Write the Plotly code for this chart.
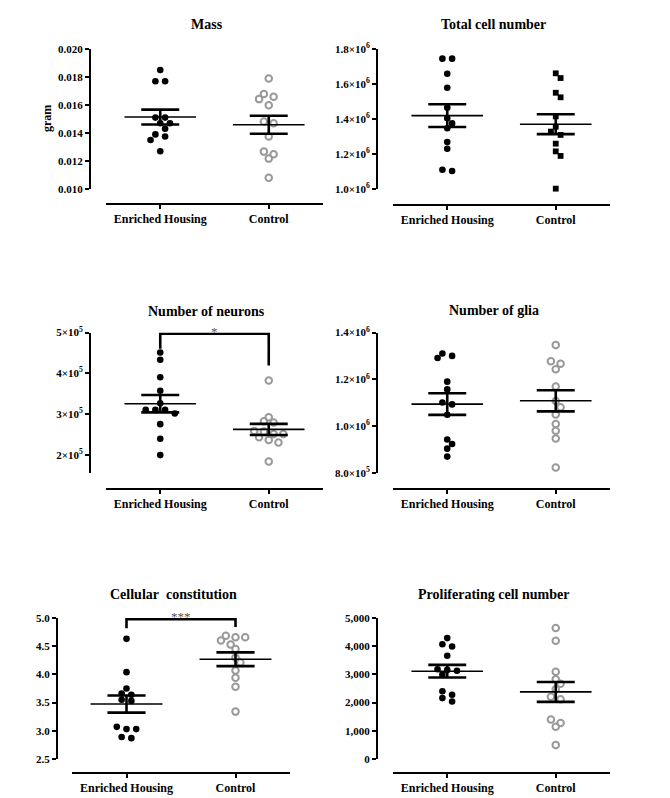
import numpy as np
import plotly.graph_objects as go

# ---------------- data ----------------
CATEGORIES = ["Enriched Housing", "Control"]

mass_enriched = [0.0185, 0.0177, 0.0177, 0.0151, 0.0151, 0.0147, 0.0147, 0.0143, 0.0139, 0.01375, 0.0135, 0.0127]
mass_control = [0.0179, 0.01678, 0.01659, 0.01642, 0.01599, 0.01482, 0.0147, 0.01375, 0.01267, 0.01248, 0.01217, 0.01081]

total_enriched = [1.745e6, 1.745e6, 1.659e6, 1.579e6, 1.465e6, 1.404e6, 1.375e6, 1.347e6, 1.269e6, 1.230e6, 1.110e6, 1.103e6]
total_control = [1.661e6, 1.634e6, 1.550e6, 1.524e6, 1.415e6, 1.356e6, 1.328e6, 1.309e6, 1.259e6, 1.215e6, 1.189e6, 1.002e6]

neurons_enriched = [4.51e5, 4.33e5, 3.90e5, 3.57e5, 3.26e5, 3.10e5, 3.10e5, 3.10e5, 3.01e5, 2.75e5, 2.39e5, 1.99e5]
neurons_control = [3.82e5, 2.92e5, 2.82e5, 2.79e5, 2.58e5, 2.57e5, 2.51e5, 2.51e5, 2.43e5, 2.36e5, 2.30e5, 1.83e5]

glia_enriched = [1.31e6, 1.30e6, 1.291e6, 1.19e6, 1.157e6, 1.101e6, 1.093e6, 1.049e6, 0.943e6, 0.924e6, 0.904e6, 0.870e6]
glia_control = [1.347e6, 1.277e6, 1.267e6, 1.243e6, 1.169e6, 1.107e6, 1.081e6, 1.05e6, 1.009e6, 0.98e6, 0.947e6, 0.823e6]

cell_enriched = [4.63, 4.04, 3.75, 3.66, 3.64, 3.55, 3.53, 3.07, 3.03, 3.03, 2.89, 2.87]
cell_control = [4.685, 4.66, 4.66, 4.60, 4.53, 4.45, 4.30, 4.21, 4.07, 3.94, 3.78, 3.34]

prolif_enriched = [4287, 4070, 3990, 3660, 3180, 3160, 3130, 3000, 2400, 2280, 2160, 2040]
prolif_control = [4644, 4190, 3090, 2830, 2670, 2470, 2210, 2120, 1400, 1280, 1140, 500]

TITLES = ["Mass", "Total cell number", "Number of neurons", "Number of glia",
          "Cellular\u00a0 constitution", "Proliferating cell number"]

mass_tickvals = [0.010, 0.012, 0.014, 0.016, 0.018, 0.020]
mass_ticktext = ["0.010", "0.012", "0.014", "0.016", "0.018", "0.020"]
total_tickvals = [1.0e6, 1.2e6, 1.4e6, 1.6e6, 1.8e6]
total_ticktext = ["1.0×10<sup>6</sup>", "1.2×10<sup>6</sup>", "1.4×10<sup>6</sup>", "1.6×10<sup>6</sup>", "1.8×10<sup>6</sup>"]
neurons_tickvals = [2e5, 3e5, 4e5, 5e5]
neurons_ticktext = ["2×10<sup>5</sup>", "3×10<sup>5</sup>", "4×10<sup>5</sup>", "5×10<sup>5</sup>"]
glia_tickvals = [8.0e5, 1.0e6, 1.2e6, 1.4e6]
glia_ticktext = ["8.0×10<sup>5</sup>", "1.0×10<sup>6</sup>", "1.2×10<sup>6</sup>", "1.4×10<sup>6</sup>"]
cell_tickvals = [2.5, 3.0, 3.5, 4.0, 4.5, 5.0]
cell_ticktext = ["2.5", "3.0", "3.5", "4.0", "4.5", "5.0"]
prolif_tickvals = [0, 1000, 2000, 3000, 4000, 5000]
prolif_ticktext = ["0", "1,000", "2,000", "3,000", "4,000", "5,000"]

# significance brackets: (top level, left leg bottom, right leg bottom, label)
neurons_bracket = (4.97e5, 4.60e5, 4.19e5, "*")
cell_bracket = (4.98, 4.82, 4.84, "***")

# ---------------- layout geometry (pixels) ----------------
W, H = 670, 798
FONT = "Liberation Serif"
BLACK = "#000000"
GRAY = "#999999"

panels = [
    dict(en=mass_enriched, co=mass_control, yrange=[0.010, 0.020], tv=mass_tickvals, tt=mass_ticktext,
         yx=90, xl=106, xr=323, yt=49, yb=189, xline=204, ty=25, co_sym="circle-open", co_col=GRAY, br=None),
    dict(en=total_enriched, co=total_control, yrange=[1.0e6, 1.8e6], tv=total_tickvals, tt=total_ticktext,
         yx=377, xl=393, xr=610, yt=49, yb=189, xline=205, ty=25, co_sym="square", co_col=BLACK, br=None),
    dict(en=neurons_enriched, co=neurons_control, yrange=[1.55e5, 5.0e5], tv=neurons_tickvals, tt=neurons_ticktext,
         yx=90, xl=106, xr=323, yt=332.5, yb=473, xline=489, ty=311, co_sym="circle-open", co_col=GRAY, br=neurons_bracket),
    dict(en=glia_enriched, co=glia_control, yrange=[8.0e5, 1.4e6], tv=glia_tickvals, tt=glia_ticktext,
         yx=377, xl=393, xr=610, yt=332.5, yb=473, xline=489, ty=310, co_sym="circle-open", co_col=GRAY, br=None),
    dict(en=cell_enriched, co=cell_control, yrange=[2.5, 5.0], tv=cell_tickvals, tt=cell_ticktext,
         yx=57, xl=72, xr=290, yt=618, yb=759, xline=773, ty=594, co_sym="circle-open", co_col=GRAY, br=cell_bracket),
    dict(en=prolif_enriched, co=prolif_control, yrange=[0, 5000], tv=prolif_tickvals, tt=prolif_ticktext,
         yx=377, xl=393, xr=610, yt=618, yb=759, xline=773, ty=594, co_sym="circle-open", co_col=GRAY, br=None),
]

XRANGE = [-0.5, 1.5]
STEP_PX = 9.7       # horizontal spacing between neighbouring dots
DOT_PX = 6.2        # dot diameter used for collision checks
MEAN_HALF = 0.33    # half width of mean line (category units)
SEM_HALF = 0.175    # half width of SEM caps


def swarm_offsets(values, ypx_per_unit, xpx_per_unit):
    """Beeswarm-like horizontal offsets (in category units) computed from the values."""
    vals = np.asarray(values, dtype=float)
    n = len(vals)
    order = sorted(range(n), key=lambda i: -vals[i])
    ypx = vals * ypx_per_unit
    rows, cur = [], []
    for i in order:
        if cur and abs(ypx[cur[0]] - ypx[i]) > 4.0:
            rows.append(cur)
            cur = []
        cur.append(i)
    if cur:
        rows.append(cur)
    placed = []
    offs = np.zeros(n)
    for row in rows:
        m = len(row)
        base = [k - (m - 1) / 2 for k in range(m)]
        cands = []
        for spread in (1, 2):
            for shift in (0, 0.5, -0.5, 1, -1, 1.5, -1.5, 2, -2, 2.5, -2.5):
                cands.append([b * spread + shift for b in base])
        best, best_score = None, None
        for c in cands:
            mind = 1e9
            for k, i in enumerate(row):
                for (px, py) in placed:
                    d = np.hypot(c[k] * STEP_PX - px, ypx[i] - py)
                    mind = min(mind, d)
            if mind >= DOT_PX:
                best = c
                break
            if best_score is None or mind > best_score:
                best, best_score = c, mind
        for k, i in enumerate(row):
            offs[i] = best[k] * STEP_PX / xpx_per_unit
            placed.append((best[k] * STEP_PX, ypx[i]))
    return offs


fig = go.Figure()
layout = dict(template="none", width=W, height=H,
              margin=dict(l=0, r=0, t=0, b=0, pad=0, autoexpand=False),
              paper_bgcolor="white", plot_bgcolor="white", showlegend=False,
              font=dict(family=FONT, color=BLACK))
annotations = []

for idx, p in enumerate(panels, start=1):
    sfx = "" if idx == 1 else str(idx)
    xa, ya = "x" + sfx, "y" + sfx
    ypx_per_unit = (p["yb"] - p["yt"]) / (p["yrange"][1] - p["yrange"][0])
    xpx_per_unit = (p["xr"] - p["xl"]) / (XRANGE[1] - XRANGE[0])

    groups = [(p["en"], "circle", BLACK, 0), (p["co"], p["co_sym"], p["co_col"], 1)]
    for vals, sym, col, c in groups:
        offs = swarm_offsets(vals, ypx_per_unit, xpx_per_unit)
        open_sym = sym.endswith("open")
        fig.add_trace(go.Scatter(
            x=c + offs, y=vals, mode="markers", xaxis=xa, yaxis=ya, cliponaxis=False,
            marker=dict(symbol=sym, size=6.5 if open_sym else (5.8 if sym == "square" else 6.6),
                        color=col, line=dict(width=2 if open_sym else 0, color=col)),
            hoverinfo="y"))
    for vals, sym, col, c in groups:
        arr = np.asarray(vals, dtype=float)
        mean = arr.mean()
        sem = arr.std(ddof=1) / np.sqrt(len(arr))
        fig.add_trace(go.Scatter(x=[c - MEAN_HALF, c + MEAN_HALF], y=[mean, mean], mode="lines",
                                 xaxis=xa, yaxis=ya, line=dict(color=BLACK, width=1.6), hoverinfo="skip"))
        for lvl in (mean - sem, mean + sem):
            fig.add_trace(go.Scatter(x=[c - SEM_HALF, c + SEM_HALF], y=[lvl, lvl], mode="lines",
                                     xaxis=xa, yaxis=ya, line=dict(color=BLACK, width=2.6), hoverinfo="skip"))
        fig.add_trace(go.Scatter(x=[c, c], y=[mean - sem, mean + sem], mode="lines",
                                 xaxis=xa, yaxis=ya, line=dict(color=BLACK, width=2.6), hoverinfo="skip"))

    if p["br"] is not None:
        top, lb, rb, lab = p["br"]
        fig.add_trace(go.Scatter(x=[0, 0, 1, 1], y=[lb, top, top, rb], mode="lines",
                                 xaxis=xa, yaxis=ya, line=dict(color=BLACK, width=2.6), hoverinfo="skip"))
        annotations.append(dict(x=0.5, y=top, xref=xa, yref=ya, text=lab, showarrow=False,
                                xanchor="center", yanchor="middle", yshift=2 if lab == "*" else 3,
                                font=dict(family=FONT, size=13, color="#555555")))

    layout["xaxis" + sfx] = dict(
        domain=[p["xl"] / W, p["xr"] / W], range=XRANGE, anchor="free", position=1 - p["xline"] / H,
        automargin=False, tickvals=[0, 1], ticktext=CATEGORIES, showgrid=False, zeroline=False,
        showline=True, linewidth=2, linecolor=BLACK, ticks="outside", ticklen=4, tickwidth=2,
        tickcolor=BLACK, tickfont=dict(family=FONT, size=12, color=BLACK, weight="bold"))
    layout["yaxis" + sfx] = dict(
        domain=[1 - p["yb"] / H, 1 - p["yt"] / H], range=p["yrange"], anchor="free", position=p["yx"] / W,
        automargin=False, tickvals=p["tv"], ticktext=p["tt"], showgrid=False, zeroline=False,
        showline=True, linewidth=2, linecolor=BLACK, ticks="outside", ticklen=4, tickwidth=2,
        tickcolor=BLACK, tickfont=dict(family=FONT, size=11, color=BLACK, weight="bold"))

    annotations.append(dict(x=(p["yx"] + p["xr"]) / 2 / W, y=1 - p["ty"] / H, xref="paper", yref="paper",
                            text=TITLES[idx - 1], showarrow=False, xanchor="center", yanchor="middle",
                            font=dict(family=FONT, size=14, color=BLACK, weight="bold")))

annotations.append(dict(x=47 / W, y=1 - 119 / H, xref="paper", yref="paper", text="gram", textangle=-90,
                        showarrow=False, xanchor="center", yanchor="middle",
                        font=dict(family=FONT, size=12, color=BLACK, weight="bold")))

layout["annotations"] = annotations
fig.update_layout(**layout)
fig.write_html("out.html", config={"displayModeBar": False},
               post_script="document.body.style.margin='0px';document.body.style.overflow='hidden';")
